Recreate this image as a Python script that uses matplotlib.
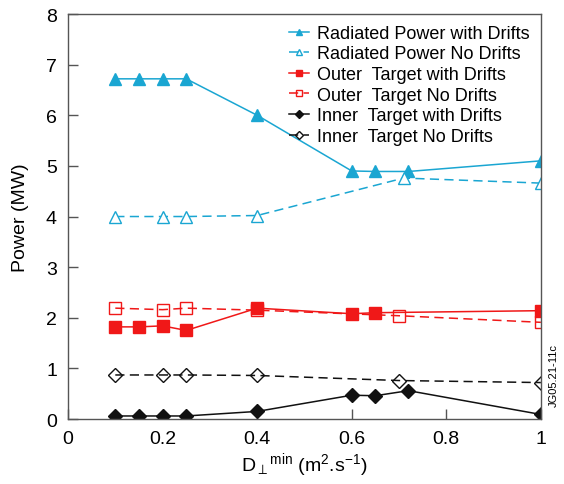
import matplotlib
matplotlib.use("Agg")
import matplotlib.pyplot as plt

plt.rcParams['font.family'] = ['Liberation Sans', 'DejaVu Sans']
plt.rcParams['mathtext.fontset'] = 'custom'
plt.rcParams['mathtext.rm'] = 'Liberation Sans'
plt.rcParams['mathtext.it'] = 'Liberation Sans'

# Data
rad_d_x = [0.1, 0.15, 0.2, 0.25, 0.4, 0.6, 0.65, 0.72, 1.0]
rad_d_y = [6.72, 6.72, 6.72, 6.72, 6.0, 4.9, 4.89, 4.89, 5.1]
rad_n_x = [0.1, 0.2, 0.25, 0.4, 0.71, 1.0]
rad_n_y = [4.0, 4.0, 4.0, 4.02, 4.76, 4.66]
out_d_x = [0.1, 0.15, 0.2, 0.25, 0.4, 0.6, 0.65, 1.0]
out_d_y = [1.82, 1.82, 1.84, 1.75, 2.19, 2.08, 2.1, 2.14]
out_n_x = [0.1, 0.2, 0.25, 0.4, 0.7, 1.0]
out_n_y = [2.19, 2.16, 2.19, 2.15, 2.04, 1.91]
inn_d_x = [0.1, 0.15, 0.2, 0.25, 0.4, 0.6, 0.65, 0.72, 1.0]
inn_d_y = [0.06, 0.06, 0.06, 0.06, 0.15, 0.47, 0.46, 0.56, 0.09]
inn_n_x = [0.1, 0.2, 0.25, 0.4, 0.7, 1.0]
inn_n_y = [0.87, 0.87, 0.87, 0.86, 0.76, 0.72]

labels = ["Radiated Power with Drifts", "Radiated Power No Drifts",
          "Outer  Target with Drifts", "Outer  Target No Drifts",
          "Inner  Target with Drifts", "Inner  Target No Drifts"]
xticks = [0, 0.2, 0.4, 0.6, 0.8, 1.0]
xticklabels = ["0", "0.2", "0.4", "0.6", "0.8", "1"]
yticks = [0, 1, 2, 3, 4, 5, 6, 7, 8]

cyan = '#1aa6d2'
red = '#f01818'
black = '#111111'
dash = (6, 3.5)

fig = plt.figure(figsize=(5.64, 4.85), dpi=100)
ax = fig.add_axes([0.1206, 0.134, 0.8384, 0.835])

ax.plot(rad_d_x, rad_d_y, '-', color=cyan, lw=1.1, marker='^', ms=9, label=labels[0])
ax.plot(rad_n_x, rad_n_y, '--', dashes=dash, color=cyan, lw=1.1, marker='^', ms=9, mfc='white', label=labels[1])
ax.plot(out_d_x, out_d_y, '-', color=red, lw=1.1, marker='s', ms=8, label=labels[2])
ax.plot(out_n_x, out_n_y, '--', dashes=dash, color=red, lw=1.1, marker='s', ms=8, mfc='none', label=labels[3])
ax.plot(inn_d_x, inn_d_y, '-', color=black, lw=1.1, marker='D', ms=7.5, label=labels[4])
ax.plot(inn_n_x, inn_n_y, '--', dashes=dash, color=black, lw=1.1, marker='D', ms=7.5, mfc='none', label=labels[5])

ax.set_xlim(0, 1)
ax.set_ylim(0, 8)
ax.set_xticks(xticks)
ax.set_xticklabels(xticklabels)
ax.set_yticks(yticks)
ax.tick_params(direction='in', length=7, width=1, labelsize=14, color='#555555', pad=8)
for s in ax.spines.values():
    s.set_color('#555555')
    s.set_linewidth(1)

ax.set_ylabel("Power (MW)", fontsize=14, labelpad=12)
ax.set_xlabel(r"D$_{\perp}$$^{\rm min}$ (m$^{2}$.s$^{-1}$)", fontsize=14, labelpad=2)

leg = ax.legend(loc='upper right', frameon=False, fontsize=13, handlelength=1.1,
                markerscale=0.5, labelspacing=0.2, handletextpad=0.45,
                borderaxespad=0.2)

fig.text(0.982, 0.225, "JG05.21-11c", rotation=90, fontsize=8, ha='center', va='center')

fig.savefig("out.png", dpi=100)
